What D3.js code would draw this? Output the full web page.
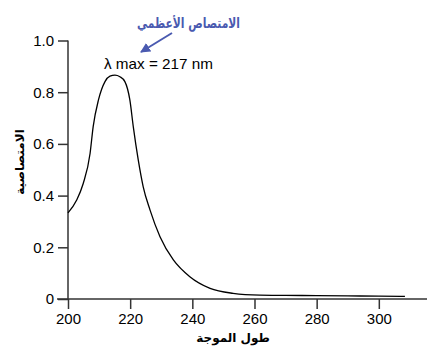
<!DOCTYPE html>
<html><head><meta charset="utf-8">
<script src="https://cdn.jsdelivr.net/npm/d3@7"></script>
<style>body{margin:0;background:#fff}svg{display:block}</style>
</head><body><svg id="c" width="438" height="361"></svg>
<script>
const wavelength = [200,202.8,204.9,207.1,208.1,209.8,211.9,213.5,215.1,216.7,218.3,219.9,221.0,222.6,224.2,226.4,229.6,233.9,239.2,245.7,253.1,261.7,270,280,290,300,308.4];
const absorbance = [0.333,0.383,0.447,0.563,0.667,0.770,0.841,0.862,0.866,0.860,0.841,0.770,0.667,0.538,0.434,0.344,0.241,0.151,0.086,0.041,0.022,0.015,0.014,0.013,0.012,0.011,0.010];
const xTicks = [200,220,240,260,280,300];
const yTicks = [0,0.2,0.4,0.6,0.8,1.0];
const yTickLabels = ["0","0.2","0.4","0.6","0.8","1.0"];
const peakLabel = "λ max = 217 nm";
const peakNote = "الامتصاص الأعظمي";
const xTitle = "طول الموجة";
const yTitle = "الامتصاصية";

const svg = d3.select("#c");
const x = d3.scaleLinear().domain([200,315.5]).range([68,427]);
const y = d3.scaleLinear().domain([0,1]).range([299,40.5]);
const font = "Liberation Sans, Arial, sans-serif";
const axisColor = "#333";

const xa = svg.append("g").attr("transform","translate(0,299)")
  .call(d3.axisBottom(x).tickValues(xTicks).tickSize(10).tickPadding(4).tickFormat(d3.format("d")));
const ya = svg.append("g").attr("transform","translate(68,0)")
  .call(d3.axisLeft(y).tickValues(yTicks).tickSize(10).tickPadding(4).tickFormat((d,i)=>yTickLabels[i]));
[xa,ya].forEach(a=>{
  a.select(".domain").attr("stroke",axisColor).attr("stroke-width",1.5);
  a.selectAll(".tick line").attr("stroke",axisColor).attr("stroke-width",1.5);
  a.selectAll(".tick text").attr("fill","#000").style("font-family",font).style("font-size","15px");
});
xa.select(".domain").attr("d","M57,0H427");
ya.select(".domain").attr("d","M0,40.5V299");

const line = d3.line().x((d,i)=>x(wavelength[i])).y(d=>y(d)).curve(d3.curveMonotoneX);
svg.append("path").datum(absorbance).attr("d",line).attr("fill","none").attr("stroke","#000").attr("stroke-width",1.3);

svg.append("text").attr("x",104).attr("y",69).attr("textLength",109).attr("lengthAdjust","spacingAndGlyphs")
  .style("font-family",font).style("font-size","15px").attr("fill","#000").text(peakLabel);

svg.append("text").attr("x",240).attr("y",28).attr("text-anchor","end")
  .attr("textLength",103).attr("lengthAdjust","spacingAndGlyphs")
  .style("font-family","DejaVu Sans, sans-serif").style("font-size","14px").style("font-weight","bold").attr("fill","#4a5ab0").text(peakNote);

svg.append("defs").append("marker").attr("id","ah").attr("viewBox","0 0 10 10").attr("refX",9).attr("refY",5)
  .attr("markerWidth",5).attr("markerHeight",5).attr("orient","auto")
  .append("path").attr("d","M0,0L10,5L0,10z").attr("fill","#4a5ab0");
svg.append("line").attr("x1",172).attr("y1",33).attr("x2",141).attr("y2",52)
  .attr("stroke","#4a5ab0").attr("stroke-width",2).attr("marker-end","url(#ah)");

svg.append("text").attr("x",233).attr("y",342).attr("text-anchor","middle")
  .style("font-family","DejaVu Sans, sans-serif").style("font-size","12px").style("font-weight","bold").text(xTitle);
svg.append("text").attr("transform","translate(24,162) rotate(-90)").attr("text-anchor","middle")
  .style("font-family","DejaVu Sans, sans-serif").style("font-size","12px").style("font-weight","bold").text(yTitle);
</script></body></html>
